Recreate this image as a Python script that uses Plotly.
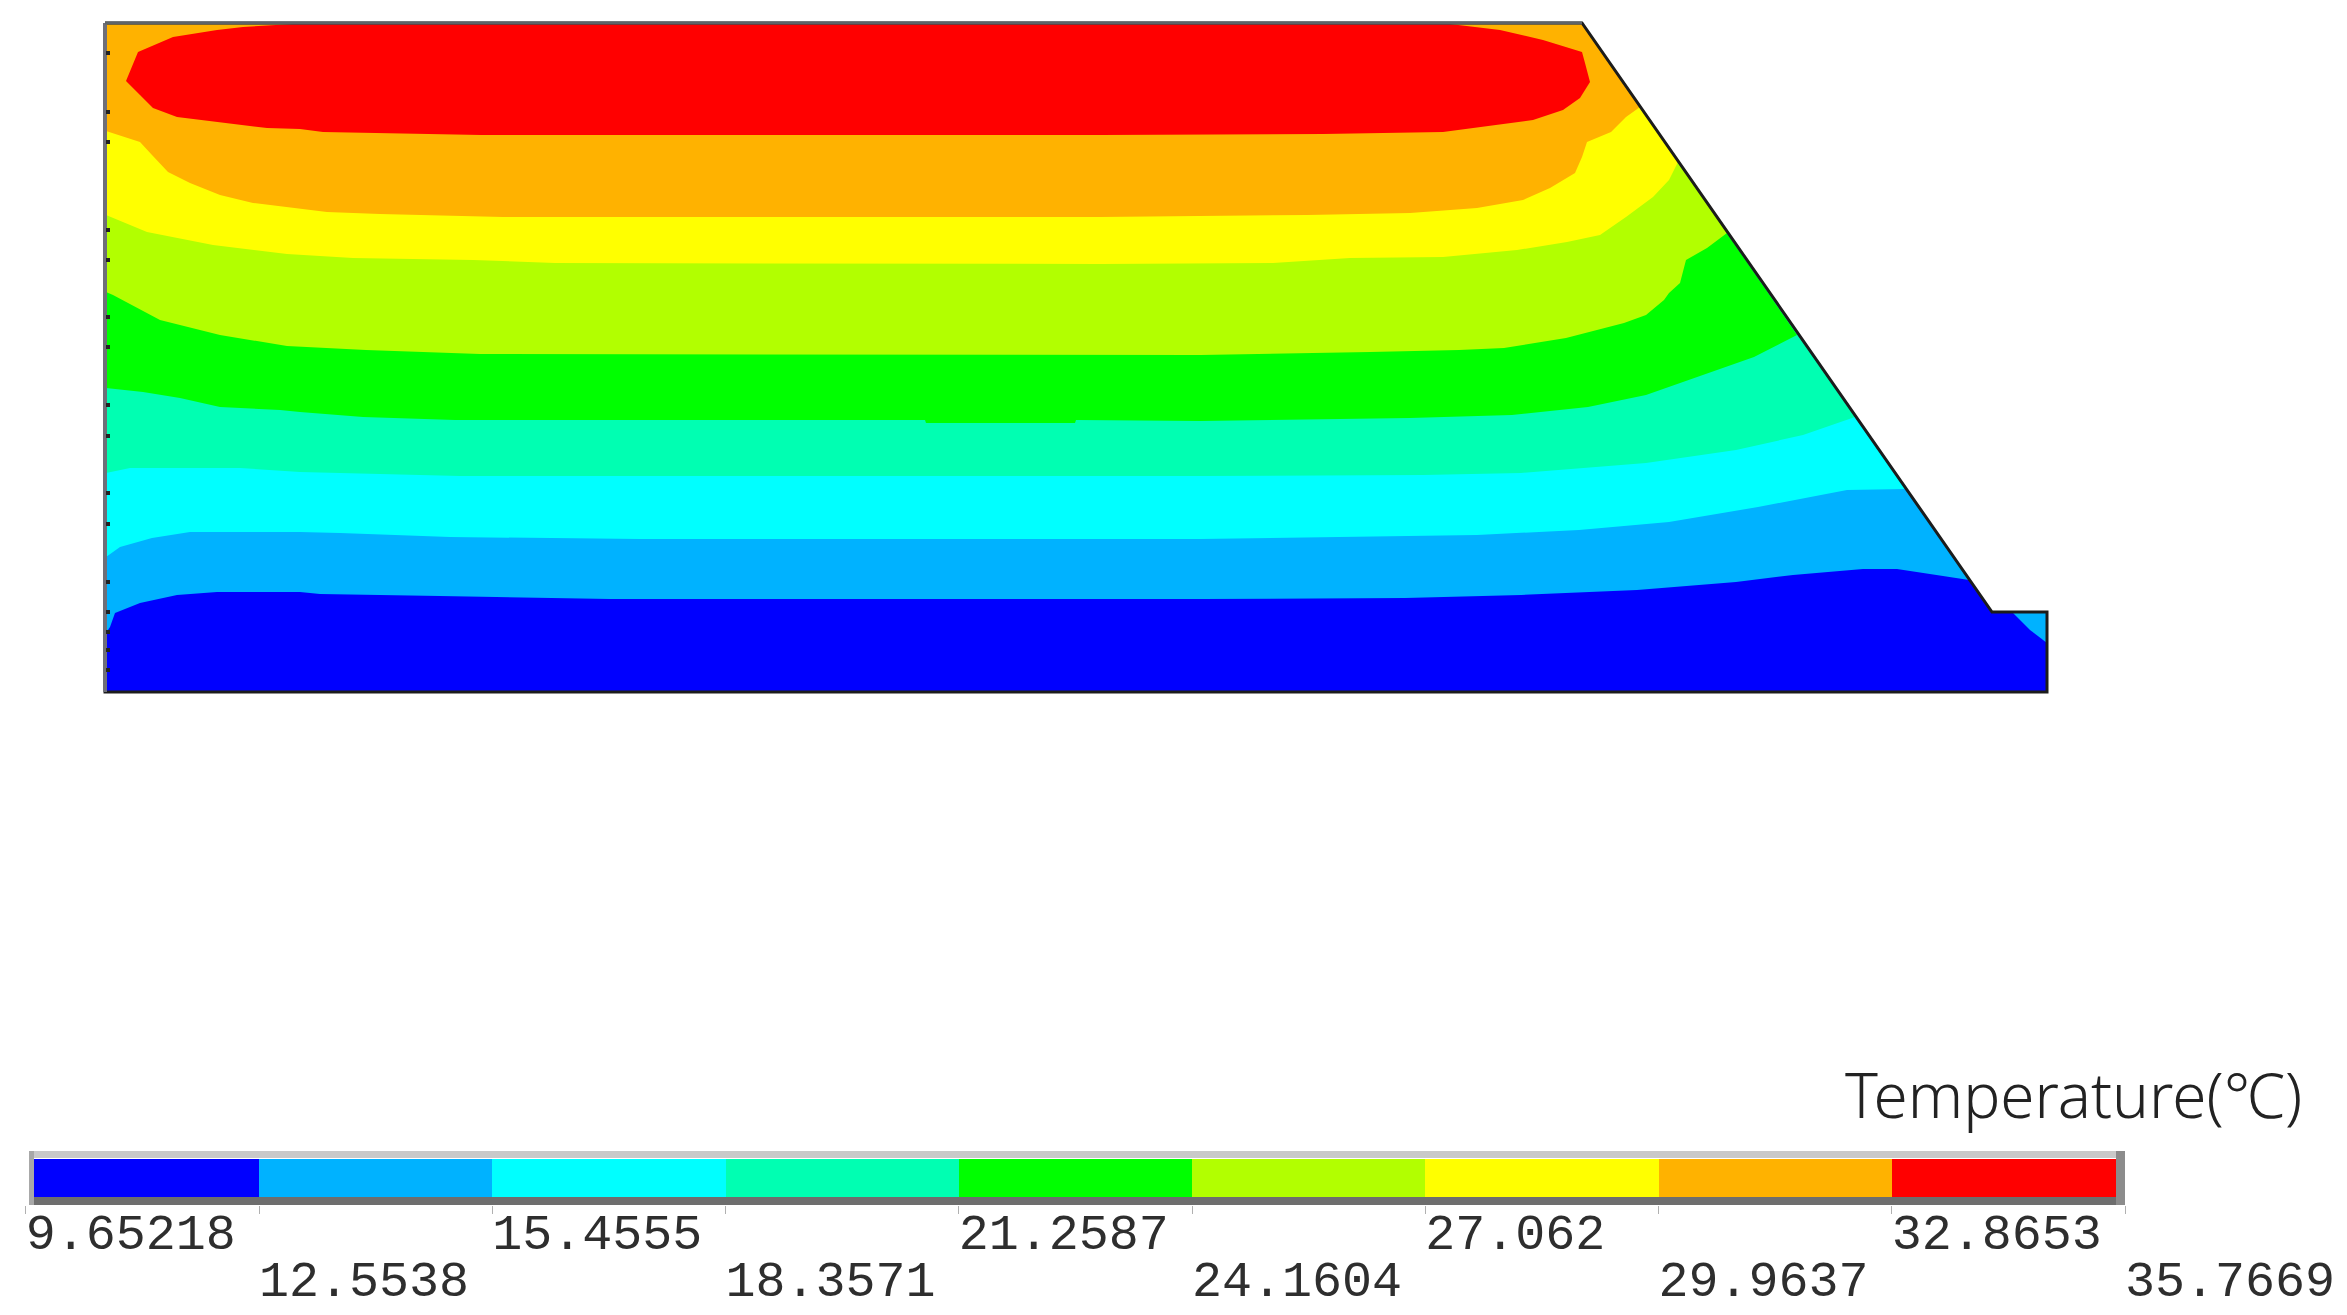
# Temperature field of a trapezoidal section, with its stepped colour legend
import plotly.graph_objects as go

# Legend levels (deg C) and band colours, coldest first
levels = [9.65218, 12.5538, 15.4555, 18.3571, 21.2587, 24.1604, 27.062, 29.9637, 32.8653, 35.7669]
level_labels = ["9.65218", "12.5538", "15.4555", "18.3571", "21.2587", "24.1604", "27.062", "29.9637", "32.8653", "35.7669"]
band_colors = ["#0000ff", "#00b2ff", "#00ffff", "#00ffb2", "#00ff00", "#b2ff00", "#ffff00", "#ffb200", "#ff0000"]
legend_title = "Temperature(℃)"

# Section outline
outline_x = [105, 1582, 1992, 2047, 2047, 105, 105]
outline_y = [23, 23, 612, 612, 692, 692, 23]

# Isotherms, left wall to sloped side; each one is the lower limit of a band
iso_12_x = [106, 110, 115, 140, 177, 217, 300, 320, 440, 610, 1200, 1405, 1521, 1637, 1736, 1793, 1863, 1897, 1943, 1969]
iso_12_y = [633, 627, 613, 603, 595, 592, 592, 594, 596, 599, 599, 598, 595, 590, 582, 575, 569, 569, 576, 580]
iso_15_x = [106, 120, 152, 190, 300, 340, 450, 640, 1200, 1352, 1477, 1579, 1669, 1758, 1847, 1905]
iso_15_y = [557, 547, 538, 532, 532, 533, 537, 539, 539, 537, 535, 530, 522, 507, 490, 489]
iso_18_x = [106, 130, 240, 300, 460, 1200, 1423, 1521, 1646, 1736, 1803, 1855]
iso_18_y = [473, 468, 468, 472, 476, 476, 475, 473, 463, 450, 435, 417]
iso_21_x = [106, 143, 180, 220, 280, 300, 363, 455, 925, 926, 1075, 1076, 1200, 1410, 1512, 1588, 1646, 1704, 1754, 1797]
iso_21_y = [388, 392, 398, 407, 410, 412, 417, 420, 420, 423, 423, 420, 421, 418, 415, 407, 395, 375, 357, 335]
iso_24_x = [106, 113, 160, 220, 287, 366, 480, 1200, 1370, 1459, 1504, 1566, 1624, 1646, 1664, 1669, 1680, 1686, 1707, 1727]
iso_24_y = [292, 295, 320, 335, 346, 350, 354, 355, 352, 350, 348, 338, 323, 315, 300, 293, 283, 260, 248, 233]
iso_27_x = [106, 147, 213, 287, 353, 473, 555, 1100, 1273, 1350, 1443, 1517, 1567, 1600, 1626, 1653, 1669, 1678]
iso_27_y = [215, 232, 245, 254, 258, 260, 263, 264, 263, 258, 257, 250, 242, 235, 217, 197, 180, 162]
iso_30_x = [106, 140, 152, 168, 190, 220, 253, 300, 327, 380, 503, 1100, 1307, 1410, 1477, 1523, 1550, 1575, 1582, 1587, 1600, 1611, 1626, 1640]
iso_30_y = [131, 142, 155, 172, 183, 195, 203, 209, 212, 214, 217, 217, 215, 213, 208, 200, 188, 173, 157, 142, 137, 132, 117, 107]

# Hot core, a closed curve
core_x = [126, 138, 173, 217, 243, 293, 1450, 1500, 1543, 1582, 1585, 1590, 1580, 1563, 1533, 1480, 1443, 1323, 1100, 481, 323, 300, 267, 177, 153, 140, 126]
core_y = [81, 52, 37, 30, 27, 24, 24, 30, 40, 52, 63, 82, 98, 110, 120, 127, 132, 134, 135, 135, 132, 129, 128, 117, 108, 95, 81]

# Warmer pocket in the corner of the step
corner_x = [2012, 2047, 2047, 2030, 2012]
corner_y = [612, 612, 643, 630, 612]

# Small node marks along the left wall
node_y = [53, 112, 142, 230, 260, 317, 347, 405, 436, 493, 524, 582, 612, 632, 650, 670]

WIDTH, HEIGHT = 2347, 1315
PX_PER_DEG = 80.39
T_AT_ZERO = levels[1] - 259 / PX_PER_DEG

fig = go.Figure()

# Bands painted coldest to hottest, every one closed along the top of the section
fig.add_trace(go.Scatter(x=outline_x, y=outline_y, mode="lines", fill="toself",
                         fillcolor=band_colors[0], line=dict(width=0)))
isotherms = [(iso_12_x, iso_12_y), (iso_15_x, iso_15_y), (iso_18_x, iso_18_y), (iso_21_x, iso_21_y),
             (iso_24_x, iso_24_y), (iso_27_x, iso_27_y), (iso_30_x, iso_30_y)]
for (iso_x, iso_y), color in zip(isotherms, band_colors[1:8]):
    fig.add_trace(go.Scatter(x=iso_x + [outline_x[1], outline_x[0], iso_x[0]],
                             y=iso_y + [outline_y[1], outline_y[0], iso_y[0]],
                             mode="lines", fill="toself", fillcolor=color, line=dict(width=0)))
fig.add_trace(go.Scatter(x=core_x, y=core_y, mode="lines", fill="toself",
                         fillcolor=band_colors[8], line=dict(width=0)))
fig.add_trace(go.Scatter(x=corner_x, y=corner_y, mode="lines", fill="toself",
                         fillcolor=band_colors[1], line=dict(width=0)))

# Outline and wall nodes
fig.add_trace(go.Scatter(x=outline_x, y=outline_y, mode="lines", line=dict(color="#1c1c1c", width=3)))
fig.add_trace(go.Scatter(x=[outline_x[0], outline_x[0]], y=[outline_y[0], outline_y[-3]], mode="lines",
                         line=dict(color="#6f6f78", width=4)))
fig.add_trace(go.Scatter(x=outline_x[:2], y=outline_y[:2], mode="lines", line=dict(color="#5f6468", width=3)))
fig.add_trace(go.Scatter(x=[outline_x[0] + 3] * len(node_y), y=node_y, mode="markers",
                         marker=dict(color="#222222", size=4, symbol="square")))

# Legend bar, on its own axis in deg C
fig.add_trace(go.Bar(x=[b - a for a, b in zip(levels[:-1], levels[1:])], base=levels[:-1],
                     y=[legend_title] * len(band_colors), orientation="h", width=39 / 54,
                     marker=dict(color=band_colors, line=dict(width=0)), xaxis="x2", yaxis="y2"))

# Tick labels in two staggered rows
for start, row_y in ((0, 1211), (1, 1258)):
    fig.add_trace(go.Scatter(x=levels[start::2], y=[row_y] * len(levels[start::2]), text=level_labels[start::2],
                             mode="text", textposition="bottom right", xaxis="x2", yaxis="y",
                             cliponaxis=False,
                             textfont=dict(family="Liberation Mono", size=50, color="#2e2e2e")))

frame = [(29, 1151, 2125, 1158, "#c9c9c9"), (29, 1197, 2125, 1205, "#6e6e6e"),
         (29, 1151, 34, 1205, "#a8a8a8"), (2116, 1151, 2125, 1205, "#8c8c8c"),
         (20, 1151, 29, 1205, "#ffffff")]
shapes = [dict(type="rect", xref="x", yref="y", x0=x0, y0=y0, x1=x1, y1=y1,
               fillcolor=color, line=dict(width=0)) for x0, y0, x1, y1, color in frame]

fig.update_layout(
    width=WIDTH, height=HEIGHT, margin=dict(l=0, r=0, t=0, b=0), showlegend=False,
    paper_bgcolor="white", plot_bgcolor="white", shapes=shapes, bargap=0,
    xaxis=dict(range=[0, WIDTH], visible=False, domain=[0, 1]),
    yaxis=dict(range=[HEIGHT, 0], visible=False, domain=[0, 1]),
    xaxis2=dict(range=[T_AT_ZERO, T_AT_ZERO + WIDTH / PX_PER_DEG], overlaying="x", anchor="y2",
                showgrid=False, zeroline=False, showline=False, tickmode="array", tickvals=levels,
                showticklabels=False, ticks="outside", ticklen=8, tickwidth=1, tickcolor="#b0b0b0"),
    yaxis2=dict(domain=[1 - 1205 / HEIGHT, 1 - 1151 / HEIGHT], range=[-0.5, 0.5], type="category",
                anchor="x2", visible=False),
    annotations=[dict(text=legend_title, xref="x", yref="y", x=2304, y=1094, xanchor="right", yanchor="middle",
                      showarrow=False, font=dict(family="Noto Sans", size=62, weight=300, color="#222222"))],
)

fig.write_html("out.html", config={"displayModeBar": False}, post_script="document.body.style.margin='0';")
